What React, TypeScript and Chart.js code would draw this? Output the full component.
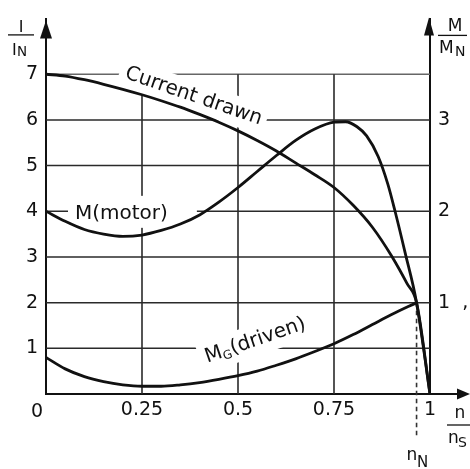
import React, { useEffect, useRef } from 'react';
import { Chart, registerables } from 'chart.js';

Chart.register(...registerables);

// ---- data ----
// speed n/ns
const currentX = [0, 0.05, 0.1, 0.15, 0.2, 0.25, 0.3, 0.35, 0.4, 0.45, 0.5, 0.55, 0.6, 0.65, 0.7, 0.75, 0.8, 0.85, 0.9, 0.94, 0.965, 1.0];
// I / IN
const currentY = [7.0, 6.96, 6.88, 6.78, 6.67, 6.55, 6.42, 6.28, 6.12, 5.95, 5.76, 5.55, 5.32, 5.06, 4.8, 4.52, 4.13, 3.65, 3.02, 2.42, 2.0, 0];

const motorX = [0, 0.05, 0.1, 0.15, 0.2, 0.25, 0.3, 0.35, 0.4, 0.45, 0.5, 0.55, 0.6, 0.65, 0.7, 0.75, 0.78, 0.81, 0.835, 0.865, 0.89, 0.909, 0.935, 0.965, 1.0];
// M / MN (motor)
const motorY = [2.0, 1.89, 1.8, 1.75, 1.725, 1.74, 1.79, 1.86, 1.96, 2.1, 2.26, 2.435, 2.61, 2.775, 2.9, 2.975, 2.98, 2.925, 2.825, 2.6, 2.3, 2.0, 1.55, 1.0, 0];

const drivenX = [0, 0.05, 0.1, 0.15, 0.2, 0.25, 0.3, 0.35, 0.4, 0.45, 0.5, 0.55, 0.6, 0.65, 0.7, 0.75, 0.8, 0.85, 0.9, 0.965];
// MG / MN (driven)
const drivenY = [0.4, 0.275, 0.19, 0.135, 0.1, 0.085, 0.085, 0.1, 0.125, 0.16, 0.2, 0.25, 0.315, 0.385, 0.465, 0.55, 0.65, 0.76, 0.87, 1.0];

const nominalSpeed = 0.965;

const xTickValues = [0.25, 0.5, 0.75, 1];
const xTickLabels = ['0.25', '0.5', '0.75', '1'];
const yTickValues = [1, 2, 3, 4, 5, 6, 7];
const yTickLabels = ['1', '2', '3', '4', '5', '6', '7'];
const y2TickValues = [1, 2, 3];
const y2TickLabels = ['1  ,', '2', '3'];
const originLabel = '0';
const gridXValues = [0.25, 0.5, 0.75];
const gridYValues = [1, 2, 3, 4, 5, 6, 7];

const FONT = "'DejaVu Sans', sans-serif";
const INK = '#111';

type Part = { t: string; s: number; dy?: number };

function partsWidth(ctx: CanvasRenderingContext2D, parts: Part[]) {
  let w = 0;
  for (const p of parts) {
    ctx.font = `${p.s}px ${FONT}`;
    w += ctx.measureText(p.t).width;
  }
  return w;
}

function drawParts(ctx: CanvasRenderingContext2D, parts: Part[], x: number, y: number, angleDeg: number) {
  ctx.save();
  ctx.translate(x, y);
  ctx.rotate((angleDeg * Math.PI) / 180);
  ctx.fillStyle = INK;
  ctx.textAlign = 'left';
  ctx.textBaseline = 'alphabetic';
  let cx = 0;
  for (const p of parts) {
    ctx.font = `${p.s}px ${FONT}`;
    ctx.fillText(p.t, cx, p.dy || 0);
    cx += ctx.measureText(p.t).width;
  }
  ctx.restore();
}

function whiteBox(ctx: CanvasRenderingContext2D, parts: Part[], x: number, y: number, angleDeg: number, pad: { l: number; r: number; t: number; b: number }) {
  const size = Math.max(...parts.map((p) => p.s));
  const w = partsWidth(ctx, parts);
  ctx.save();
  ctx.translate(x, y);
  ctx.rotate((angleDeg * Math.PI) / 180);
  ctx.fillStyle = '#ffffff';
  ctx.fillRect(-pad.l, -(0.76 * size + pad.t), w + pad.l + pad.r, 0.76 * size + 0.24 * size + pad.t + pad.b);
  ctx.restore();
}

function text(ctx: CanvasRenderingContext2D, t: string, x: number, y: number, size: number, align: CanvasTextAlign = 'left') {
  ctx.font = `${size}px ${FONT}`;
  ctx.fillStyle = INK;
  ctx.textAlign = align;
  ctx.textBaseline = 'alphabetic';
  ctx.fillText(t, x, y);
}

function line(ctx: CanvasRenderingContext2D, x1: number, y1: number, x2: number, y2: number, w: number, color = INK) {
  ctx.beginPath();
  ctx.strokeStyle = color;
  ctx.lineWidth = w;
  ctx.moveTo(x1, y1);
  ctx.lineTo(x2, y2);
  ctx.stroke();
}

function tri(ctx: CanvasRenderingContext2D, pts: number[][]) {
  ctx.beginPath();
  ctx.fillStyle = INK;
  ctx.moveTo(pts[0][0], pts[0][1]);
  ctx.lineTo(pts[1][0], pts[1][1]);
  ctx.lineTo(pts[2][0], pts[2][1]);
  ctx.closePath();
  ctx.fill();
}

const labelDefs = () => [
  { parts: [{ t: 'Current drawn', s: 20 }] as Part[], at: [0.203, 6.92], angle: 19, pad: { l: 6, r: 5, t: 5, b: 5 } },
  { parts: [{ t: 'M(motor)', s: 20 }] as Part[], at: [0.0755, 3.83], angle: 0, pad: { l: 7, r: 29, t: 8, b: 4 } },
  {
    parts: [{ t: 'M', s: 20 }, { t: 'G', s: 12, dy: 3 }, { t: '(driven)', s: 20 }] as Part[],
    at: [0.42, 0.685],
    angle: -19,
    pad: { l: 6, r: 6, t: 6, b: 5 },
  },
];

const decorPlugin = {
  id: 'decor',
  beforeDatasetsDraw(chart: any) {
    const { ctx } = chart;
    const xs = chart.scales.x;
    const ys = chart.scales.y;
    const x0 = xs.getPixelForValue(0);
    const x1 = xs.getPixelForValue(1);
    const y0 = ys.getPixelForValue(0);
    const y7 = ys.getPixelForValue(7);
    ctx.save();
    // grid
    for (const v of gridYValues) {
      const py = ys.getPixelForValue(v);
      line(ctx, x0, py, x1, py, 1.5, v === 7 ? '#666' : '#2a2a2a');
    }
    for (const v of gridXValues) {
      const px = xs.getPixelForValue(v);
      line(ctx, px, y0, px, y7, 1.6, '#2a2a2a');
    }
    // x axis extension + arrow
    line(ctx, x1, y0, x1 + 30, y0, 2);
    tri(ctx, [[x1 + 40, y0], [x1 + 27, y0 - 5.5], [x1 + 27, y0 + 5.5]]);
    // left arrow
    const top = chart.chartArea.top;
    tri(ctx, [[x0, top + 1], [x0 - 6, top + 19], [x0 + 6, top + 19]]);
    // right arrow
    tri(ctx, [[x1 - 1, top - 2], [x1 - 6, top + 16], [x1 + 4, top + 16]]);
    line(ctx, x1, top - 1, x1, top + 4, 2);
    // white boxes behind labels
    for (const d of labelDefs()) {
      whiteBox(ctx, d.parts, xs.getPixelForValue(d.at[0]), ys.getPixelForValue(d.at[1]), d.angle, d.pad);
    }
    // nominal speed dashed line
    const pn = xs.getPixelForValue(nominalSpeed);
    ctx.setLineDash([4.5, 3.5]);
    line(ctx, pn, ys.getPixelForValue(2), pn, y0 + 44, 1.6, '#333');
    ctx.setLineDash([]);
    ctx.restore();
  },
  afterDatasetsDraw(chart: any) {
    const { ctx } = chart;
    const xs = chart.scales.x;
    const ys = chart.scales.y;
    const x0 = xs.getPixelForValue(0);
    const x1 = xs.getPixelForValue(1);
    const y0 = ys.getPixelForValue(0);
    const top = chart.chartArea.top;
    ctx.save();
    for (const d of labelDefs()) {
      drawParts(ctx, d.parts, xs.getPixelForValue(d.at[0]), ys.getPixelForValue(d.at[1]), d.angle);
    }
    // origin label
    text(ctx, originLabel, x0 - 9, y0 + 23, 19, 'center');
    // left title I / IN
    text(ctx, 'I', x0 - 25, top + 13, 16, 'center');
    line(ctx, x0 - 38, top + 15.5, x0 - 12, top + 15.5, 1.3);
    text(ctx, 'I', x0 - 34, top + 36, 16, 'left');
    text(ctx, 'N', x0 - 29, top + 37, 13.5, 'left');
    // right title M / MN
    text(ctx, 'M', x1 + 25, top + 12, 17, 'center');
    line(ctx, x1 + 8, top + 16, x1 + 37, top + 16, 1.3);
    text(ctx, 'M', x1 + 9, top + 34, 17, 'left');
    text(ctx, 'N', x1 + 25, top + 37, 14, 'left');
    // x title n / ns
    text(ctx, 'n', x1 + 30, y0 + 24, 17, 'center');
    line(ctx, x1 + 17, y0 + 31, x1 + 42, y0 + 31, 1.3);
    text(ctx, 'n', x1 + 18, y0 + 49, 17, 'left');
    text(ctx, 'S', x1 + 28, y0 + 53, 14, 'left');
    // nN
    const pn = xs.getPixelForValue(nominalSpeed);
    text(ctx, 'n', pn - 10, y0 + 66, 17, 'left');
    text(ctx, 'N', pn + 0.5, y0 + 73, 15, 'left');
    ctx.restore();
  },
};

export default function App() {
  const ref = useRef<HTMLCanvasElement | null>(null);
  useEffect(() => {
    if (!ref.current) return;
    const tickFont = { family: FONT, size: 19 };
    const chart = new Chart(ref.current, {
      type: 'scatter',
      data: {
        datasets: [
          { label: 'Current drawn', data: currentX.map((x, i) => ({ x, y: currentY[i] })), yAxisID: 'y' },
          { label: 'M(motor)', data: motorX.map((x, i) => ({ x, y: motorY[i] })), yAxisID: 'y2' },
          { label: 'MG(driven)', data: drivenX.map((x, i) => ({ x, y: drivenY[i] })), yAxisID: 'y2' },
        ].map((d) => ({
          ...d,
          showLine: true,
          borderColor: INK,
          backgroundColor: INK,
          borderWidth: 2.8,
          pointRadius: 0,
          cubicInterpolationMode: 'monotone' as const,
          fill: false,
        })),
      },
      options: {
        animation: false,
        responsive: true,
        maintainAspectRatio: false,
        layout: { padding: { top: 11, left: 0, right: 0, bottom: 0 } },
        plugins: { legend: { display: false }, tooltip: { enabled: false }, title: { display: false } },
        scales: {
          x: {
            type: 'linear',
            position: 'bottom',
            min: 0,
            max: 1,
            grid: { display: false, drawTicks: false },
            border: { display: true, color: INK, width: 2 },
            afterBuildTicks: (s: any) => {
              s.ticks = xTickValues.map((v) => ({ value: v }));
            },
            afterFit: (s: any) => {
              s.height = 75;
            },
            ticks: {
              callback: (_v: any, i: number) => xTickLabels[i],
              color: INK,
              font: tickFont,
              padding: 5,
              maxRotation: 0,
              autoSkip: false,
            },
          },
          y: {
            type: 'linear',
            position: 'left',
            min: 0,
            max: 8.2,
            grid: { display: false, drawTicks: false },
            border: { display: true, color: INK, width: 2 },
            afterBuildTicks: (s: any) => {
              s.ticks = yTickValues.map((v) => ({ value: v }));
            },
            afterFit: (s: any) => {
              s.width = 46;
            },
            ticks: {
              callback: (_v: any, i: number) => yTickLabels[i],
              color: INK,
              font: tickFont,
              padding: 8,
              autoSkip: false,
            },
          },
          y2: {
            type: 'linear',
            position: 'right',
            min: 0,
            max: 4.1,
            grid: { display: false, drawTicks: false },
            border: { display: true, color: INK, width: 2 },
            afterBuildTicks: (s: any) => {
              s.ticks = y2TickValues.map((v) => ({ value: v }));
            },
            afterFit: (s: any) => {
              s.width = 40;
            },
            ticks: {
              callback: (_v: any, i: number) => y2TickLabels[i],
              color: INK,
              font: tickFont,
              padding: 8,
              autoSkip: false,
            },
          },
        },
      } as any,
      plugins: [decorPlugin],
    });
    return () => chart.destroy();
  }, []);

  return (
    <div style={{ position: 'fixed', left: 0, top: 0, width: 470, height: 469, background: '#fff' }}>
      <canvas ref={ref} />
    </div>
  );
}
